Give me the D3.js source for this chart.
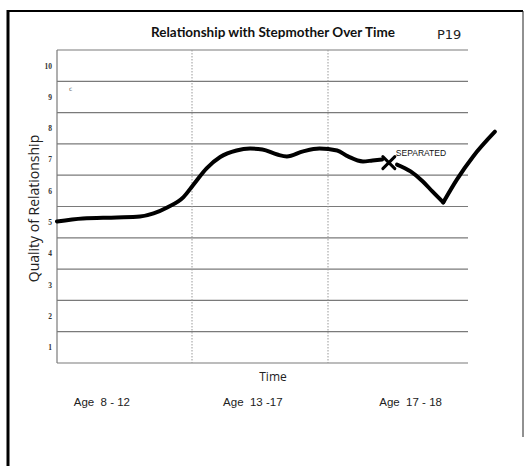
<!DOCTYPE html>
<html><head><meta charset="utf-8">
<script src="https://cdn.jsdelivr.net/npm/d3@7"></script>
<style>html,body{margin:0;padding:0;background:#fff;}svg{display:block;}</style>
</head><body>
<script>
// ---- data ----
const title = "Relationship with Stepmother Over Time";
const pageTag = "P19";
const yLabel = "Quality of Relationship";
const xLabel = "Time";
const yTicks = [1,2,3,4,5,6,7,8,9,10];
const periodBounds = [1, 2];                    // dotted separators (time units)
const categories = ["Age  8 - 12", "Age  13 -17", "Age  17 - 18"];
const categoryPos = [0.33, 1.44, 2.6];
// before separation
const timeBefore = [0,0.19,0.44,0.61,0.71,0.81,0.93,1.00,1.10,1.20,1.32,1.42,1.51,1.62,1.69,1.81,1.93,2.06,2.14,2.25,2.32,2.39];
const qualityBefore = [5.02,5.12,5.15,5.18,5.28,5.47,5.80,6.18,6.72,7.08,7.29,7.35,7.32,7.16,7.10,7.26,7.35,7.29,7.10,6.94,6.97,7.00];
// separation event
const separationTime = [2.44];
const separationQuality = [6.90];
const separationLabel = "SEPARATED";
// after separation: decline, then recovery
const timeDecline = [2.50,2.60,2.69,2.76,2.84];
const qualityDecline = [6.84,6.62,6.30,5.98,5.63];
const timeRecovery = [2.84,2.94,3.06,3.22];
const qualityRecovery = [5.63,6.36,7.10,7.89];

// ---- layout ----
const W = 532, H = 466;
const svg = d3.select("body").append("svg").attr("width", W).attr("height", H);
const x = d3.scaleLinear().domain([0, 3]).range([57, 465]);
const y = d3.scaleLinear().domain([0.5, 10.5]).range([363, 50]);
const gridRight = 468;

// page frame
svg.append("line").attr("x1",7).attr("x2",523).attr("y1",11).attr("y2",11).attr("stroke","#000").attr("stroke-width",2);
svg.append("line").attr("x1",8).attr("x2",8).attr("y1",10).attr("y2",H).attr("stroke","#000").attr("stroke-width",3);
svg.append("line").attr("x1",523).attr("x2",523).attr("y1",11).attr("y2",437).attr("stroke","#222").attr("stroke-width",1);

// horizontal band lines
const bandEdges = d3.range(0.5, 11, 1);
svg.append("g").selectAll("line").data(bandEdges).join("line")
  .attr("x1", x(0)).attr("x2", gridRight)
  .attr("y1", d => y(d)).attr("y2", d => y(d))
  .attr("stroke", "#7a7a7a").attr("stroke-width", 1.2);
// left axis line
svg.append("line").attr("x1", x(0)).attr("x2", x(0)).attr("y1", y(10.5)).attr("y2", y(0.5))
  .attr("stroke", "#7a7a7a").attr("stroke-width", 1.2);
// dotted separators
svg.append("g").selectAll("line").data(periodBounds).join("line")
  .attr("x1", d => x(d) - 1).attr("x2", d => x(d) - 1)
  .attr("y1", y(10.5)).attr("y2", y(0.5))
  .attr("stroke", "#999").attr("stroke-width", 1).attr("stroke-dasharray", "1.5,1.5");

// y tick labels (via axis)
const yAxis = d3.axisLeft(y).tickValues(yTicks).tickSize(0).tickPadding(0).tickFormat(d3.format("d"));
const gy = svg.append("g").attr("transform", "translate(52,0)").call(yAxis);
gy.select(".domain").remove();
gy.selectAll("text").attr("font-family", "Liberation Serif, serif").attr("font-size", 7.5)
  .attr("font-weight", "bold").attr("fill", "#333");

// y label
svg.append("text").attr("transform", `translate(39,${y(5.5) + 2}) rotate(-90)`)
  .attr("text-anchor", "middle").attr("font-family", "Open Sans, sans-serif").attr("font-size", 14)
  .attr("fill", "#222").text(yLabel);

// title
svg.append("text").attr("x", 273).attr("y", 37).attr("text-anchor", "middle")
  .attr("font-family", "Lato, sans-serif").attr("font-weight", "bold").attr("font-size", 13.5)
  .attr("fill", "#111").text(title);
svg.append("text").attr("x", 437).attr("y", 39).attr("font-family", "DejaVu Sans, sans-serif")
  .attr("font-size", 13).attr("fill", "#222").text(pageTag);

// tiny mark
svg.append("text").attr("x", 69).attr("y", 91).attr("font-size", 6).attr("fill", "#666")
  .attr("font-family", "DejaVu Sans").text("c");

// x label & categories
svg.append("text").attr("x", 273).attr("y", 381).attr("text-anchor", "middle")
  .attr("font-family", "Open Sans, sans-serif").attr("font-size", 12).attr("fill", "#222").text(xLabel);
svg.append("g").selectAll("text").data(categories).join("text")
  .attr("x", (d, i) => x(categoryPos[i])).attr("y", 406).attr("text-anchor", "middle")
  .attr("font-family", "Liberation Sans Narrow, Liberation Sans, sans-serif").attr("font-size", 11.5)
  .attr("fill", "#222").attr("xml:space", "preserve").style("white-space", "pre").text(d => d);

// curves
const line = d3.line().x(d => x(d[0])).y(d => y(d[1])).curve(d3.curveMonotoneX);
const zip = (a, b) => a.map((v, i) => [v, b[i]]);
const curveStyle = sel => sel.attr("fill", "none").attr("stroke", "#000").attr("stroke-width", 4)
  .attr("stroke-linecap", "round").attr("stroke-linejoin", "round");
svg.append("path").datum(zip(timeBefore, qualityBefore)).attr("d", line).call(curveStyle);
svg.append("path").datum(zip(timeDecline, qualityDecline)).attr("d", line).call(curveStyle);
svg.append("path").datum(zip(timeRecovery, qualityRecovery)).attr("d", line).call(curveStyle);

// separation marker
const sx = x(separationTime[0]), sy = y(separationQuality[0]), r = 6;
svg.append("path").attr("d", `M${sx-r},${sy-r}L${sx+r},${sy+r}M${sx+r},${sy-r}L${sx-r},${sy+r}`)
  .attr("stroke", "#000").attr("stroke-width", 3).attr("stroke-linecap", "round");
svg.append("text").attr("x", sx + 7).attr("y", sy - 7).attr("font-family", "Liberation Sans Narrow, sans-serif")
  .attr("font-size", 8.5).attr("fill", "#111").text(separationLabel);
</script>
</body></html>
